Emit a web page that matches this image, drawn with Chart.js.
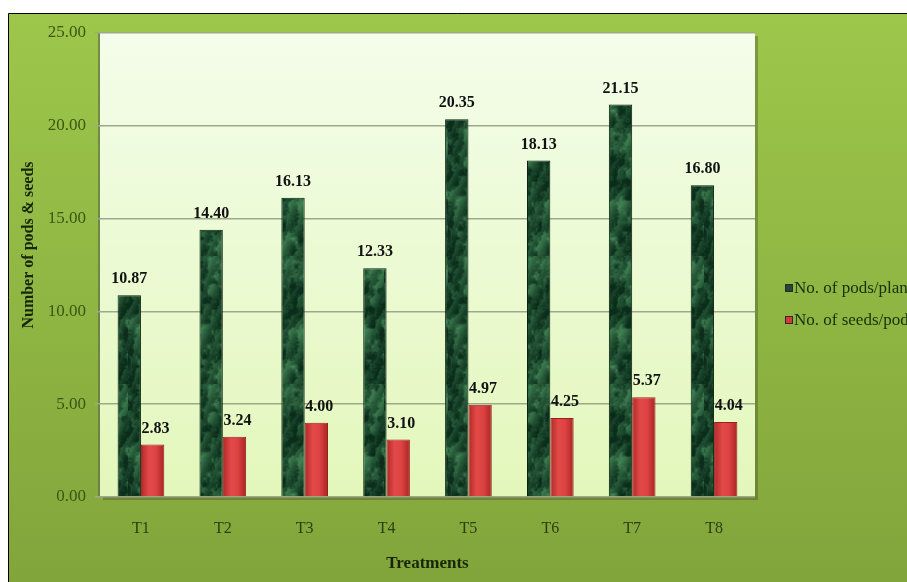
<!DOCTYPE html>
<html>
<head>
<meta charset="utf-8">
<script src="https://cdn.jsdelivr.net/npm/chart.js@4.4.1/dist/chart.umd.min.js"></script>
<style>
  html, body { margin: 0; padding: 0; background: #fff; }
  #wrap { width: 907px; height: 582px; }
</style>
</head>
<body>
<div id="wrap"><canvas id="grafico" width="907" height="582"></canvas></div>
<script>
// datos
const tratamientos = ['T1', 'T2', 'T3', 'T4', 'T5', 'T6', 'T7', 'T8']
const vainasPorPlanta = [10.87, 14.40, 16.13, 12.33, 20.35, 18.13, 21.15, 16.80]
const semillasPorVaina = [2.83, 3.24, 4.00, 3.10, 4.97, 4.25, 5.37, 4.04]
const nombresSeries = ['No. of pods/plant', 'No. of seeds/pod']
const ticksY = [0, 5, 10, 15, 20, 25]
const tituloY = 'Number of pods & seeds'
const tituloX = 'Treatments'

const fuente = 'Liberation Serif, Times New Roman, serif'
const catPct = 0.57

// ruido suave (hash fijo) para la textura de marmol
function hash(x, y) {
    let h = Math.sin(x * 127.1 + y * 311.7) * 43758.5453
    return h - Math.floor(h)
}
function ruido(x, y) {
    let xi = Math.floor(x), yi = Math.floor(y)
    let xf = x - xi, yf = y - yi
    let u = xf * xf * (3 - 2 * xf), v = yf * yf * (3 - 2 * yf)
    let a = hash(xi, yi), b = hash(xi + 1, yi), c = hash(xi, yi + 1), d = hash(xi + 1, yi + 1)
    return a + (b - a) * u + (c - a) * v + (a - b - c + d) * u * v
}

function crearMarmol() {
    let c = document.createElement('canvas')
    c.width = 64
    c.height = 128
    let g = c.getContext('2d')
    let img = g.createImageData(c.width, c.height)
    for (let y = 0; y < c.height; y++) {
        for (let x = 0; x < c.width; x++) {
            let n = ruido(x / 9, y / 11) * 0.55 + ruido(x / 4, y / 5) * 0.3 + ruido(x / 2, y / 2) * 0.15
            let vena = Math.abs(Math.sin((x * 0.25 + y * 0.12 + n * 6)))
            let t = Math.min(1, Math.max(0, (n - 0.35) * 1.8))
            t = t * 0.75 + (1 - vena) * 0.25
            let k = (y * c.width + x) * 4
            img.data[k] = 10 + t * 62
            img.data[k + 1] = 44 + t * 98
            img.data[k + 2] = 26 + t * 66
            img.data[k + 3] = 255
        }
    }
    g.putImageData(img, 0, 0)
    return g.createPattern(c, 'repeat')
}

let ctxGraf = document.getElementById('grafico').getContext('2d')
let marmol = crearMarmol()

function rellenoRojo(ctx) {
    let chart = ctx.chart
    let esc = chart.scales.x
    if (!esc || !chart.chartArea) return '#d63a3a'
    let ancho = esc.width / tratamientos.length
    let bw = ancho * catPct / 2
    let cx = esc.getPixelForValue(ctx.dataIndex) + bw / 2
    let grad = chart.ctx.createLinearGradient(cx - bw / 2, 0, cx + bw / 2, 0)
    grad.addColorStop(0, '#b02828')
    grad.addColorStop(0.35, '#e24a48')
    grad.addColorStop(0.65, '#dc4242')
    grad.addColorStop(1, '#a82424')
    return grad
}

const fondos = {
    id: 'fondos',
    beforeDraw(chart) {
        let c = chart.ctx
        let a = chart.chartArea
        c.save()
        c.fillStyle = '#ffffff'
        c.fillRect(0, 0, chart.width, chart.height)
        let g = c.createLinearGradient(0, 13, 0, chart.height)
        g.addColorStop(0, '#9dc74b')
        g.addColorStop(1, '#82a53b')
        c.fillStyle = g
        c.fillRect(8, 13, chart.width - 8, chart.height - 13)
        c.strokeStyle = '#000'
        c.lineWidth = 1
        c.beginPath()
        c.moveTo(8.5, chart.height)
        c.lineTo(8.5, 13.5)
        c.lineTo(chart.width, 13.5)
        c.stroke()
        // sombra del area de trazado
        c.fillStyle = 'rgba(60,70,40,0.35)'
        c.fillRect(a.left + 3, a.top + 3, a.width, a.height)
        c.fillStyle = 'rgba(90,100,70,0.6)'
        c.fillRect(a.left - 2, a.top, 2, a.height)
        let p = c.createLinearGradient(0, a.top, 0, a.bottom)
        p.addColorStop(0, '#f4fdea')
        p.addColorStop(1, '#e3f7bb')
        c.fillStyle = p
        c.fillRect(a.left, a.top, a.width, a.height)
        // titulo del eje y
        c.translate(29, 245)
        c.rotate(-Math.PI / 2)
        c.font = 'bold 16px ' + fuente
        c.fillStyle = '#17250a'
        c.textAlign = 'center'
        c.textBaseline = 'middle'
        c.fillText(tituloY, 0, 0)
        c.restore()
    }
}

const etiquetas = {
    id: 'etiquetas',
    afterDatasetsDraw(chart) {
        let c = chart.ctx
        c.save()
        c.font = 'bold 16px ' + fuente
        c.fillStyle = '#111'
        c.textAlign = 'center'
        c.textBaseline = 'bottom'
        chart.data.datasets.forEach((ds, i) => {
            chart.getDatasetMeta(i).data.forEach((bar, j) => {
                let dx = i === 1 ? 3 : 0
                c.fillText(ds.data[j].toFixed(2), bar.x + dx, bar.y - 8)
            })
        })
        // leyenda
        let colores = ['#1d4a32', '#d63a3a']
        let ys = [288, 320]
        c.font = '17px ' + fuente
        c.textAlign = 'left'
        c.textBaseline = 'middle'
        nombresSeries.forEach((n, i) => {
            c.fillStyle = '#2a2a2a'
            c.fillRect(785, ys[i] - 4, 8, 8)
            c.fillStyle = colores[i]
            c.fillRect(786, ys[i] - 3, 6, 6)
            c.fillStyle = '#17310a'
            c.fillText(n, 794, ys[i] + 1)
        })
        c.restore()
    }
}

let grafico = new Chart(ctxGraf, {
    type: 'bar',
    data: {
        labels: tratamientos,
        datasets: [
            {
                label: nombresSeries[0],
                data: vainasPorPlanta,
                backgroundColor: marmol,
                borderColor: '#08220f',
                borderWidth: 1,
                categoryPercentage: catPct,
                barPercentage: 1,
            },
            {
                label: nombresSeries[1],
                data: semillasPorVaina,
                backgroundColor: rellenoRojo,
                borderColor: '#9a2020',
                borderWidth: 1,
                categoryPercentage: catPct,
                barPercentage: 1,
            }
        ]
    },
    options: {
        responsive: false,
        animation: false,
        layout: {
            padding: { left: 8, top: 33, right: 152, bottom: 8 }
        },
        plugins: {
            legend: { display: false },
            tooltip: { enabled: false },
        },
        scales: {
            x: {
                grid: { display: false },
                border: { display: false },
                ticks: {
                    color: '#2f3d14',
                    font: { family: fuente, size: 16 },
                    padding: 14,
                },
                title: {
                    display: true,
                    text: tituloX,
                    color: '#17250a',
                    font: { family: fuente, size: 17, weight: 'bold' },
                    padding: 0,
                },
                afterFit: (s) => { s.height = 77 },
            },
            y: {
                min: 0,
                max: 25,
                afterBuildTicks: (s) => { s.ticks = ticksY.map(v => ({ value: v })) },
                grid: {
                    color: '#9ea88a',
                    lineWidth: 1.5,
                    tickLength: 5,
                },
                border: { display: false },
                ticks: {
                    color: '#3b5612',
                    font: { family: fuente, size: 17 },
                    padding: 9,
                    callback: (v) => Number(v).toFixed(2),
                },
                afterFit: (s) => { s.width = 92 },
            }
        }
    },
    plugins: [fondos, etiquetas]
})
</script>
</body>
</html>
